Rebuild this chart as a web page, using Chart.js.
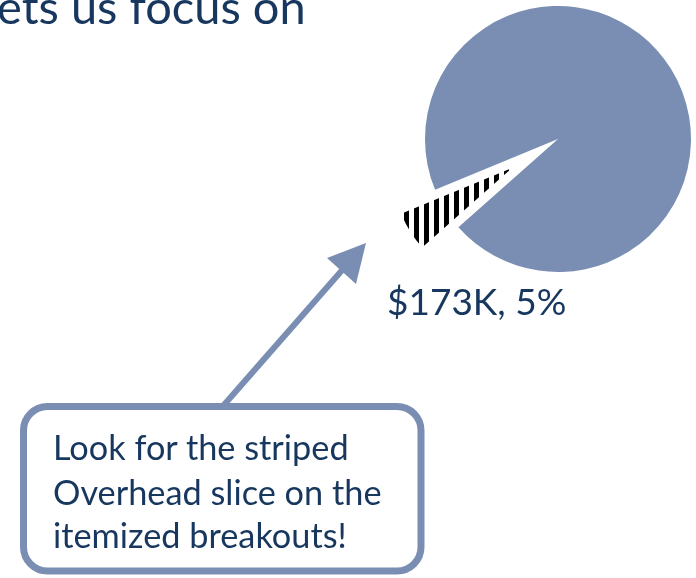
<!DOCTYPE html>
<html>
<head>
<meta charset="utf-8">
<script src="https://cdn.jsdelivr.net/npm/chart.js@4/dist/chart.umd.min.js"></script>
<style>
  html, body { margin: 0; padding: 0; background: #fff; }
  body { width: 696px; height: 578px; overflow: hidden; position: relative; font-family: Lato, "Open Sans", sans-serif; }
  .pie-wrap { position: absolute; width: 336px; height: 300px; }
  #mainWrap { left: 360px; top: 0; }
  /* exploded overhead slice: same pie, pulled out toward lower-left */
  #sliceWrap { left: 314px; top: 29px; }
  svg.overlay { position: absolute; left: 0; top: 0; }
</style>
</head>
<body>
<div class="pie-wrap" id="mainWrap"><canvas id="pieChart" width="336" height="300"></canvas></div>
<div class="pie-wrap" id="sliceWrap"><canvas id="sliceChart" width="336" height="300"></canvas></div>
<svg class="overlay" width="696" height="578" xmlns="http://www.w3.org/2000/svg">
  <text x="-3" y="24" font-size="47" fill="#17375e">ets us focus on</text>
  <text id="sliceLabel" x="387" y="315" font-size="37" fill="#17375e"></text>
  <line x1="223" y1="406" x2="344" y2="268" stroke="#7a8eb3" stroke-width="6"/>
  <polygon points="366,243 356,284 327,258" fill="#7a8eb3"/>
  <rect x="23.5" y="406.5" width="397.5" height="164.5" rx="24" ry="24" fill="#fff" stroke="#7a8eb3" stroke-width="7"/>
  <text x="53" y="460" font-size="34.3" fill="#17375e">Look for the striped</text>
  <text x="53" y="505" font-size="34.3" fill="#17375e">Overhead slice on the</text>
  <text x="53" y="548" font-size="34.3" fill="#17375e">itemized breakouts!</text>
</svg>
<script>
// Cost split ($K) - only the overhead slice is called out
const sliceNames = ['Overhead', 'Other'];
const sliceValues = [173, 3100];

// striped fill for the overhead slice
const makeStripes = () => {
    const c = document.createElement('canvas');
    c.width = 10;
    c.height = 10;
    const g = c.getContext('2d');
    g.fillStyle = '#fff';
    g.fillRect(0, 0, 10, 10);
    g.fillStyle = '#000';
    g.fillRect(0, 0, 5, 10);
    return g.createPattern(c, 'repeat');
};

const total = sliceValues.reduce((a, b) => a + b, 0);
const overheadPct = Math.round(sliceValues[0] / total * 100);
document.getElementById('sliceLabel').textContent = '$' + sliceValues[0] + 'K, ' + overheadPct + '%';

const makePie = (canvasId, colors, radius) => new Chart(document.getElementById(canvasId).getContext('2d'), {
    type: 'pie',
    data: {
        labels: sliceNames,
        datasets: [{
            data: sliceValues,
            backgroundColor: colors,
            borderWidth: 0
        }]
    },
    options: {
        responsive: false,
        animation: false,
        events: [],
        rotation: 228.5,
        radius: radius,
        layout: { padding: { left: 65, top: 6, right: 5, bottom: 28 } },
        plugins: {
            legend: { display: false },
            tooltip: { enabled: false }
        }
    }
});

// main pie with a hole where overhead was, then the pulled-out striped slice
const pieChart = makePie('pieChart', ['rgba(0,0,0,0)', '#7a8eb3'], 133);
const sliceChart = makePie('sliceChart', [makeStripes(), 'rgba(0,0,0,0)'], 120);
</script>
</body>
</html>
